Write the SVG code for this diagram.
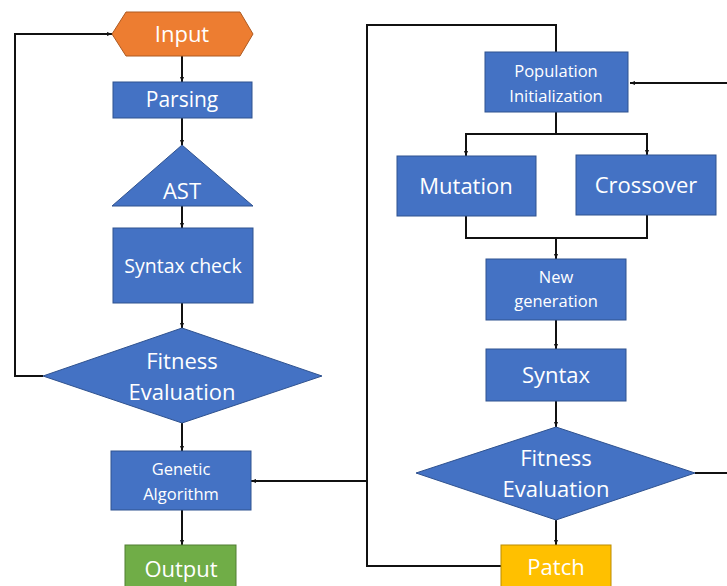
<svg xmlns="http://www.w3.org/2000/svg" width="727" height="586" viewBox="0 0 727 586">
<defs>
<marker id="arr" viewBox="0 0 10 10" refX="10" refY="5" markerWidth="5" markerHeight="5" orient="auto-start-reverse" markerUnits="userSpaceOnUse">
<path d="M0,1 L10,5 L0,9 z" fill="#111"/>
</marker>
</defs>
<style>
.b{fill:#4472C4;stroke:#2F528F;stroke-width:1}
.o{fill:#ED7D31;stroke:#AE5A21;stroke-width:1}
.g{fill:#70AD47;stroke:#507E32;stroke-width:1}
.y{fill:#FFC000;stroke:#BC8C00;stroke-width:1}
text{font-family:"Open Sans","Noto Sans","Liberation Sans",sans-serif;fill:#fff;text-anchor:middle}
.l{font-size:22px}
.m{font-size:21px}
.k{font-size:19.5px}
.s{font-size:16.5px}
.c{fill:none;stroke:#111;stroke-width:2}
.a{marker-end:url(#arr)}
</style>
<rect width="727" height="586" fill="#fff"/>
<g id="connectors">
<path class="c a" d="M182,56 V82"/>
<path class="c a" d="M182,118 V145"/>
<path class="c a" d="M182,206 V228"/>
<path class="c a" d="M182,303 V328"/>
<path class="c a" d="M182,423 V451"/>
<path class="c a" d="M182,510 V545"/>
<path class="c a" d="M43,376 H15 V34 H112"/>
<path class="c" d="M501,566 H367 V25 H556 V52"/>
<path class="c a" d="M367,481 H251"/>
<path class="c a" d="M727,83 H630"/>
<path class="c" d="M556,112 V134"/>
<path class="c a" d="M556,134 H466 V156"/>
<path class="c a" d="M556,134 H647 V155"/>
<path class="c" d="M466,216 V238 H647 V215"/>
<path class="c a" d="M556,238 V259"/>
<path class="c a" d="M556,320 V349"/>
<path class="c a" d="M556,401 V427"/>
<path class="c a" d="M556,520 V545"/>
<path class="c" d="M695,473 H727"/>
</g>
<g id="input">
<polygon class="o" points="112,34 126,12 240,12 253,34 240,56 126,56"/>
<text class="l" x="182" y="42">Input</text>
</g>
<g id="parsing">
<rect class="b" x="113" y="82" width="139" height="36"/>
<text class="m" x="182" y="107">Parsing</text>
</g>
<g id="ast">
<polygon class="b" points="182,145 253,206 112,206"/>
<text class="l" x="182" y="199">AST</text>
</g>
<g id="syntax-check">
<rect class="b" x="113" y="228" width="140" height="75"/>
<text class="k" x="183" y="273">Syntax check</text>
</g>
<g id="fitness-left">
<polygon class="b" points="182,328 322,376 182,423 43,376"/>
<text class="l" x="182" y="369">Fitness</text>
<text class="l" x="182" y="400">Evaluation</text>
</g>
<g id="genetic">
<rect class="b" x="111" y="451" width="140" height="59"/>
<text class="s" x="181" y="475">Genetic</text>
<text class="s" x="181" y="500">Algorithm</text>
</g>
<g id="output">
<rect class="g" x="125" y="545" width="111" height="45"/>
<text class="l" x="181" y="577">Output</text>
</g>
<g id="population">
<rect class="b" x="485" y="52" width="143" height="60"/>
<text class="s" x="556" y="77">Population</text>
<text class="s" x="556" y="102">Initialization</text>
</g>
<g id="mutation">
<rect class="b" x="397" y="156" width="139" height="60"/>
<text class="l" x="466" y="194">Mutation</text>
</g>
<g id="crossover">
<rect class="b" x="576" y="155" width="140" height="60"/>
<text class="l" x="646" y="193">Crossover</text>
</g>
<g id="new-generation">
<rect class="b" x="486" y="259" width="140" height="61"/>
<text class="s" x="556" y="283">New</text>
<text class="s" x="556" y="307">generation</text>
</g>
<g id="syntax">
<rect class="b" x="486" y="349" width="140" height="52"/>
<text class="l" x="556" y="383">Syntax</text>
</g>
<g id="fitness-right">
<polygon class="b" points="556,427 695,473 556,520 416,473"/>
<text class="l" x="556" y="466">Fitness</text>
<text class="l" x="556" y="497">Evaluation</text>
</g>
<g id="patch">
<rect class="y" x="501" y="545" width="110" height="45"/>
<text class="l" x="556" y="575">Patch</text>
</g>
</svg>
